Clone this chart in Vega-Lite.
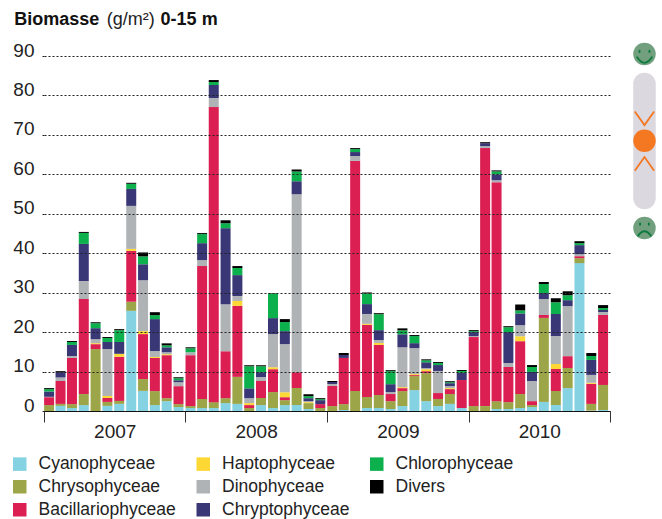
{
"$schema":"https://vega.github.io/schema/vega-lite/v6.json",
"width":566,"height":355,"autosize":{"type":"none"},
"padding":{"left":44,"top":56,"right":52,"bottom":108},
"background":"white",
"view":{"stroke":null},
"config":{"font":"Liberation Sans"},
"layer":[
{"data":{"values":[
{"date":"2007-01-15","Cyanophyceae":0,"Chrysophyceae":1.5,"Bacillariophyceae":2.0,"Haptophyceae":0,"Dinophyceae":0.1,"Chryptophyceae":1.35,"Chlorophyceae":0.6,"Divers":0.25},
{"date":"2007-02-15","Cyanophyceae":1.3,"Chrysophyceae":0.5,"Bacillariophyceae":5.8,"Haptophyceae":0,"Dinophyceae":0.9,"Chryptophyceae":1.35,"Chlorophyceae":0,"Divers":0.25},
{"date":"2007-03-15","Cyanophyceae":0.75,"Chrysophyceae":1.0,"Bacillariophyceae":11.7,"Haptophyceae":0,"Dinophyceae":0.5,"Chryptophyceae":2.8,"Chlorophyceae":0.75,"Divers":0.25},
{"date":"2007-04-15","Cyanophyceae":1.5,"Chrysophyceae":2.8,"Bacillariophyceae":24.1,"Haptophyceae":0,"Dinophyceae":4.55,"Chryptophyceae":9.4,"Chlorophyceae":2.8,"Divers":0.25},
{"date":"2007-05-15","Cyanophyceae":0,"Chrysophyceae":15.7,"Bacillariophyceae":1.25,"Haptophyceae":0.25,"Dinophyceae":1.0,"Chryptophyceae":2.8,"Chlorophyceae":1.25,"Divers":0.25},
{"date":"2007-06-15","Cyanophyceae":1.3,"Chrysophyceae":1.0,"Bacillariophyceae":1.0,"Haptophyceae":0.5,"Dinophyceae":11.9,"Chryptophyceae":1.8,"Chlorophyceae":1.0,"Divers":0.25},
{"date":"2007-07-15","Cyanophyceae":1.8,"Chrysophyceae":0.75,"Bacillariophyceae":11.2,"Haptophyceae":0.75,"Dinophyceae":0,"Chryptophyceae":3.0,"Chlorophyceae":3.0,"Divers":0.25},
{"date":"2007-08-15","Cyanophyceae":25.4,"Chrysophyceae":2.3,"Bacillariophyceae":12.9,"Haptophyceae":0.5,"Dinophyceae":10.9,"Chryptophyceae":4.3,"Chlorophyceae":1.3,"Divers":0.25},
{"date":"2007-09-15","Cyanophyceae":5.1,"Chrysophyceae":3.0,"Bacillariophyceae":11.4,"Haptophyceae":0.75,"Dinophyceae":12.9,"Chryptophyceae":4.05,"Chlorophyceae":2.0,"Divers":1.0},
{"date":"2007-10-15","Cyanophyceae":1.5,"Chrysophyceae":3.55,"Bacillariophyceae":8.4,"Haptophyceae":0.25,"Dinophyceae":1.5,"Chryptophyceae":8.1,"Chlorophyceae":1.0,"Divers":0.75},
{"date":"2007-11-15","Cyanophyceae":2.5,"Chrysophyceae":0.75,"Bacillariophyceae":10.9,"Haptophyceae":0.25,"Dinophyceae":0.5,"Chryptophyceae":1.25,"Chlorophyceae":0.5,"Divers":0.5},
{"date":"2007-12-15","Cyanophyceae":1.0,"Chrysophyceae":0.75,"Bacillariophyceae":4.55,"Haptophyceae":0,"Dinophyceae":1.0,"Chryptophyceae":0.5,"Chlorophyceae":0.5,"Divers":0.25},
{"date":"2008-01-15","Cyanophyceae":0.75,"Chrysophyceae":0.5,"Bacillariophyceae":12.9,"Haptophyceae":0,"Dinophyceae":0.75,"Chryptophyceae":0,"Chlorophyceae":1.0,"Divers":0.25},
{"date":"2008-02-15","Cyanophyceae":0.75,"Chrysophyceae":2.3,"Bacillariophyceae":33.7,"Haptophyceae":0,"Dinophyceae":1.5,"Chryptophyceae":4.3,"Chlorophyceae":2.3,"Divers":0.25},
{"date":"2008-03-15","Cyanophyceae":0.75,"Chrysophyceae":1.5,"Bacillariophyceae":74.8,"Haptophyceae":0,"Dinophyceae":2.3,"Chryptophyceae":3.3,"Chlorophyceae":0.75,"Divers":0.5},
{"date":"2008-04-15","Cyanophyceae":2.0,"Chrysophyceae":1.25,"Bacillariophyceae":11.9,"Haptophyceae":0,"Dinophyceae":11.9,"Chryptophyceae":19.3,"Chlorophyceae":1.25,"Divers":0.75},
{"date":"2008-05-15","Cyanophyceae":1.8,"Chrysophyceae":6.85,"Bacillariophyceae":18.0,"Haptophyceae":1.25,"Dinophyceae":1.25,"Chryptophyceae":5.3,"Chlorophyceae":1.8,"Divers":0.5},
{"date":"2008-06-15","Cyanophyceae":0,"Chrysophyceae":0.75,"Bacillariophyceae":0.75,"Haptophyceae":0.5,"Dinophyceae":1.25,"Chryptophyceae":2.5,"Chlorophyceae":5.6,"Divers":0.25},
{"date":"2008-07-15","Cyanophyceae":1.5,"Chrysophyceae":1.8,"Bacillariophyceae":4.3,"Haptophyceae":0,"Dinophyceae":1.0,"Chryptophyceae":1.25,"Chlorophyceae":1.5,"Divers":0.25},
{"date":"2008-08-15","Cyanophyceae":0.75,"Chrysophyceae":4.05,"Bacillariophyceae":5.8,"Haptophyceae":0.5,"Dinophyceae":8.4,"Chryptophyceae":4.05,"Chlorophyceae":6.25,"Divers":0.1},
{"date":"2008-09-15","Cyanophyceae":1.5,"Chrysophyceae":1.25,"Bacillariophyceae":0.75,"Haptophyceae":1.25,"Dinophyceae":12.2,"Chryptophyceae":3.3,"Chlorophyceae":2.3,"Divers":0.75},
{"date":"2008-10-15","Cyanophyceae":1.5,"Chrysophyceae":4.3,"Bacillariophyceae":4.05,"Haptophyceae":0,"Dinophyceae":45.1,"Chryptophyceae":3.3,"Chlorophyceae":2.5,"Divers":0.5},
{"date":"2008-11-15","Cyanophyceae":0.5,"Chrysophyceae":1.5,"Bacillariophyceae":0,"Haptophyceae":0.25,"Dinophyceae":0.25,"Chryptophyceae":0.75,"Chlorophyceae":0.5,"Divers":0.5},
{"date":"2008-12-15","Cyanophyceae":0,"Chrysophyceae":0.75,"Bacillariophyceae":1.0,"Haptophyceae":0,"Dinophyceae":0,"Chryptophyceae":1.0,"Chlorophyceae":0.25,"Divers":0.25},
{"date":"2009-01-15","Cyanophyceae":0,"Chrysophyceae":1.25,"Bacillariophyceae":5.1,"Haptophyceae":0,"Dinophyceae":0.5,"Chryptophyceae":0.5,"Chlorophyceae":0,"Divers":0.25},
{"date":"2009-02-15","Cyanophyceae":0.25,"Chrysophyceae":1.5,"Bacillariophyceae":11.7,"Haptophyceae":0,"Dinophyceae":0,"Chryptophyceae":0.75,"Chlorophyceae":0,"Divers":0.5},
{"date":"2009-03-15","Cyanophyceae":0,"Chrysophyceae":5.1,"Bacillariophyceae":58.3,"Haptophyceae":0,"Dinophyceae":1.25,"Chryptophyceae":1.0,"Chlorophyceae":0.75,"Divers":0.25},
{"date":"2009-04-15","Cyanophyceae":0.75,"Chrysophyceae":2.8,"Bacillariophyceae":18.3,"Haptophyceae":0.25,"Dinophyceae":2.5,"Chryptophyceae":2.5,"Chlorophyceae":2.7,"Divers":0.25},
{"date":"2009-05-15","Cyanophyceae":0.75,"Chrysophyceae":3.3,"Bacillariophyceae":12.7,"Haptophyceae":0.5,"Dinophyceae":0.75,"Chryptophyceae":2.5,"Chlorophyceae":4.05,"Divers":0.25},
{"date":"2009-06-15","Cyanophyceae":0.5,"Chrysophyceae":2.0,"Bacillariophyceae":1.8,"Haptophyceae":0,"Dinophyceae":0.5,"Chryptophyceae":2.0,"Chlorophyceae":3.3,"Divers":0.25},
{"date":"2009-07-15","Cyanophyceae":1.25,"Chrysophyceae":3.8,"Bacillariophyceae":0.75,"Haptophyceae":0.25,"Dinophyceae":10.1,"Chryptophyceae":3.3,"Chlorophyceae":1.0,"Divers":0.5},
{"date":"2009-08-15","Cyanophyceae":5.3,"Chrysophyceae":3.55,"Bacillariophyceae":0.25,"Haptophyceae":0.25,"Dinophyceae":6.6,"Chryptophyceae":1.25,"Chlorophyceae":1.8,"Divers":0.25},
{"date":"2009-09-15","Cyanophyceae":2.5,"Chrysophyceae":7.1,"Bacillariophyceae":0.5,"Haptophyceae":0.5,"Dinophyceae":0.25,"Chryptophyceae":1.5,"Chlorophyceae":0.5,"Divers":0.25},
{"date":"2009-10-15","Cyanophyceae":1.25,"Chrysophyceae":1.8,"Bacillariophyceae":1.5,"Haptophyceae":0,"Dinophyceae":5.6,"Chryptophyceae":1.5,"Chlorophyceae":0.5,"Divers":0.25},
{"date":"2009-11-15","Cyanophyceae":1.8,"Chrysophyceae":2.5,"Bacillariophyceae":1.25,"Haptophyceae":0.25,"Dinophyceae":0.5,"Chryptophyceae":0.75,"Chlorophyceae":0.25,"Divers":0.25},
{"date":"2009-12-15","Cyanophyceae":0.75,"Chrysophyceae":0,"Bacillariophyceae":7.1,"Haptophyceae":0,"Dinophyceae":0,"Chryptophyceae":1.8,"Chlorophyceae":0.5,"Divers":0.25},
{"date":"2010-01-15","Cyanophyceae":0,"Chrysophyceae":1.25,"Bacillariophyceae":17.5,"Haptophyceae":0,"Dinophyceae":0.25,"Chryptophyceae":1.0,"Chlorophyceae":0.25,"Divers":0.25},
{"date":"2010-02-15","Cyanophyceae":0,"Chrysophyceae":1.25,"Bacillariophyceae":65.4,"Haptophyceae":0,"Dinophyceae":0.5,"Chryptophyceae":0.75,"Chlorophyceae":0,"Divers":0.25},
{"date":"2010-03-15","Cyanophyceae":0.5,"Chrysophyceae":2.0,"Bacillariophyceae":55.5,"Haptophyceae":0,"Dinophyceae":0.5,"Chryptophyceae":1.5,"Chlorophyceae":0.75,"Divers":0.25},
{"date":"2010-04-15","Cyanophyceae":0.5,"Chrysophyceae":1.75,"Bacillariophyceae":8.9,"Haptophyceae":0,"Dinophyceae":1.0,"Chryptophyceae":7.85,"Chlorophyceae":1.25,"Divers":0.25},
{"date":"2010-05-15","Cyanophyceae":0.75,"Chrysophyceae":3.55,"Bacillariophyceae":13.4,"Haptophyceae":1.25,"Dinophyceae":2.8,"Chryptophyceae":3.0,"Chlorophyceae":0.75,"Divers":1.5},
{"date":"2010-06-15","Cyanophyceae":1.0,"Chrysophyceae":0.5,"Bacillariophyceae":1.0,"Haptophyceae":0,"Dinophyceae":5.1,"Chryptophyceae":2.3,"Chlorophyceae":1.25,"Divers":0.5},
{"date":"2010-07-15","Cyanophyceae":2.3,"Chrysophyceae":21.3,"Bacillariophyceae":0.75,"Haptophyceae":0,"Dinophyceae":4.05,"Chryptophyceae":1.5,"Chlorophyceae":2.3,"Divers":0.5},
{"date":"2010-08-15","Cyanophyceae":1.5,"Chrysophyceae":3.55,"Bacillariophyceae":5.6,"Haptophyceae":1.25,"Dinophyceae":7.1,"Chryptophyceae":5.6,"Chlorophyceae":3.0,"Divers":1.0},
{"date":"2010-09-15","Cyanophyceae":5.8,"Chrysophyceae":5.1,"Bacillariophyceae":3.0,"Haptophyceae":0,"Dinophyceae":12.7,"Chryptophyceae":1.5,"Chlorophyceae":1.25,"Divers":1.0},
{"date":"2010-10-15","Cyanophyceae":37.5,"Chrysophyceae":1.25,"Bacillariophyceae":0.5,"Haptophyceae":0,"Dinophyceae":0.5,"Chryptophyceae":2.3,"Chlorophyceae":0.5,"Divers":0.5},
{"date":"2010-11-15","Cyanophyceae":0.1,"Chrysophyceae":1.7,"Bacillariophyceae":5.1,"Haptophyceae":0.25,"Dinophyceae":2.0,"Chryptophyceae":3.8,"Chlorophyceae":1.0,"Divers":0.75},
{"date":"2010-12-15","Cyanophyceae":0.25,"Chrysophyceae":6.35,"Bacillariophyceae":17.75,"Haptophyceae":0,"Dinophyceae":0.75,"Chryptophyceae":0.5,"Chlorophyceae":0.5,"Divers":0.75}
]},
"transform":[
{"fold":["Cyanophyceae","Chrysophyceae","Bacillariophyceae","Haptophyceae","Dinophyceae","Chryptophyceae","Chlorophyceae","Divers"],"as":["group","biomass"]},
{"calculate":"indexof(['Cyanophyceae','Chrysophyceae','Bacillariophyceae','Haptophyceae','Dinophyceae','Chryptophyceae','Chlorophyceae','Divers'],datum.group)","as":"stackOrder"}
],
"mark":{"type":"bar","width":10,"xOffset":-0.9},
"encoding":{
"x":{"field":"date","type":"temporal","timeUnit":"yearmonth","title":null,
"scale":{"domain":["2007-01-01T00:00:00","2011-01-01T00:00:00"],"nice":false},
"axis":{"values":["2007-01-01T00:00:00","2008-01-01T00:00:00","2009-01-01T00:00:00","2010-01-01T00:00:00","2011-01-01T00:00:00"],
"labelExpr":"year(datum.value)==2011?'':timeFormat(datum.value,'%Y')","labelOffset":70.7,"labelAlign":"center","labelFontSize":19,"labelColor":"#222","labelFont":"Liberation Sans","labelPadding":0,"labelFlush":false,"labelOverlap":false,
"tickSize":11,"tickColor":"#333","tickWidth":1,"domainColor":"#111","domainWidth":1.2,"grid":false,"zindex":1}},
"y":{"field":"biomass","type":"quantitative","stack":"zero","title":null,
"scale":{"domain":[0,90],"nice":false},
"axis":{"tickCount":10,"values":[0,10,20,30,40,50,60,70,80,90],"labelFontSize":19,"labelColor":"#222","labelFont":"Liberation Sans","labelOffset":-6,"labelPadding":6,"labelOverlap":false,"domain":false,"tickSize":4,"tickColor":"#222","tickDash":[2,2],"grid":true,"gridColor":"#222","gridDash":[2,2],"gridWidth":1,"gridOpacity":1,"zindex":1}},
"color":{"field":"group","type":"nominal",
"scale":{"domain":["Cyanophyceae","Chrysophyceae","Bacillariophyceae","Haptophyceae","Dinophyceae","Chryptophyceae","Chlorophyceae","Divers"],"range":["#84d2e2","#9da549","#dc1f52","#fdd835","#b0b3b5","#3a3776","#0cb04c","#000000"]},
"legend":{"orient":"none","legendX":-33,"legendY":399,"title":null,"columns":3,"direction":"vertical","symbolType":"square","symbolSize":182,"symbolStrokeWidth":0,"labelFont":"Liberation Sans","labelFontSize":17.5,"labelColor":"#222","labelOffset":10,"rowPadding":4,"columnPadding":18.5,"gridAlign":"each","padding":0}},
"order":{"field":"stackOrder","type":"quantitative"}
}},
{"data":{"values":[{"label":"Biomasse","date":"2006-10-16","value":97.9},{"label":"0-15 m","date":"2007-10-29","value":97.9}]},
"mark":{"type":"text","align":"left","baseline":"alphabetic","font":"Liberation Sans","fontWeight":"bold","fontSize":18,"color":"#111"},
"encoding":{"x":{"field":"date","type":"temporal","title":null},"y":{"field":"value","type":"quantitative","title":null},"text":{"field":"label"}}},
{"data":{"values":[{"label":"(g/m²)","date":"2007-06-12","value":97.9}]},
"mark":{"type":"text","align":"left","baseline":"alphabetic","font":"Liberation Sans","fontSize":18,"color":"#222"},
"encoding":{"x":{"field":"date","type":"temporal","title":null},"y":{"field":"value","type":"quantitative","title":null},"text":{"field":"label"}}},
{"data":{"values":[{"date":"2011-03-31","value":82.9,"value2":54}]},
"mark":{"type":"rule","strokeWidth":22.5,"strokeCap":"round","color":"#dcd8df"},
"encoding":{"x":{"field":"date","type":"temporal","title":null},"y":{"field":"value","type":"quantitative","title":null},"y2":{"field":"value2"}}},
{"data":{"values":[{"date":"2011-03-31","value":68.5}]},
"mark":{"type":"point","shape":"circle","filled":true,"size":506,"color":"#f47721","opacity":1},
"encoding":{"x":{"field":"date","type":"temporal","title":null},"y":{"field":"value","type":"quantitative","title":null}}},
{"data":{"values":[{"date":"2011-03-31","value":68.5}]},
"mark":{"type":"point","shape":"M-0.88 -2.67L0 -1.43L0.88 -2.67M-0.88 2.72L0 1.48L0.88 2.72","filled":false,"size":484,"stroke":"#f47721","strokeWidth":1.8,"opacity":1},
"encoding":{"x":{"field":"date","type":"temporal","title":null},"y":{"field":"value","type":"quantitative","title":null}}},
{"data":{"values":[{"date":"2011-03-31","value":90.5},{"date":"2011-03-31","value":46.4}]},
"mark":{"type":"point","shape":"circle","filled":true,"size":506,"color":"#72a07f","opacity":1},
"encoding":{"x":{"field":"date","type":"temporal","title":null},"y":{"field":"value","type":"quantitative","title":null}}},
{"data":{"values":[{"date":"2011-03-31","value":90.5}]},
"mark":{"type":"point","shape":"M-0.45 -0.3L-0.45 -0.18M0.45 -0.3L0.45 -0.18M-0.67 0.3Q0 1.3 0.67 0.3","filled":false,"size":484,"stroke":"#0f7a3f","strokeWidth":1.9,"strokeCap":"round","opacity":1},
"encoding":{"x":{"field":"date","type":"temporal","title":null},"y":{"field":"value","type":"quantitative","title":null}}},
{"data":{"values":[{"date":"2011-03-31","value":46.4}]},
"mark":{"type":"point","shape":"M-0.4 -0.42L-0.4 -0.3M0.4 -0.42L0.4 -0.3M-0.58 0.7Q0 -0.1 0.58 0.7","filled":false,"size":484,"stroke":"#0f7a3f","strokeWidth":1.9,"strokeCap":"round","opacity":1},
"encoding":{"x":{"field":"date","type":"temporal","title":null},"y":{"field":"value","type":"quantitative","title":null}}}
]
}
